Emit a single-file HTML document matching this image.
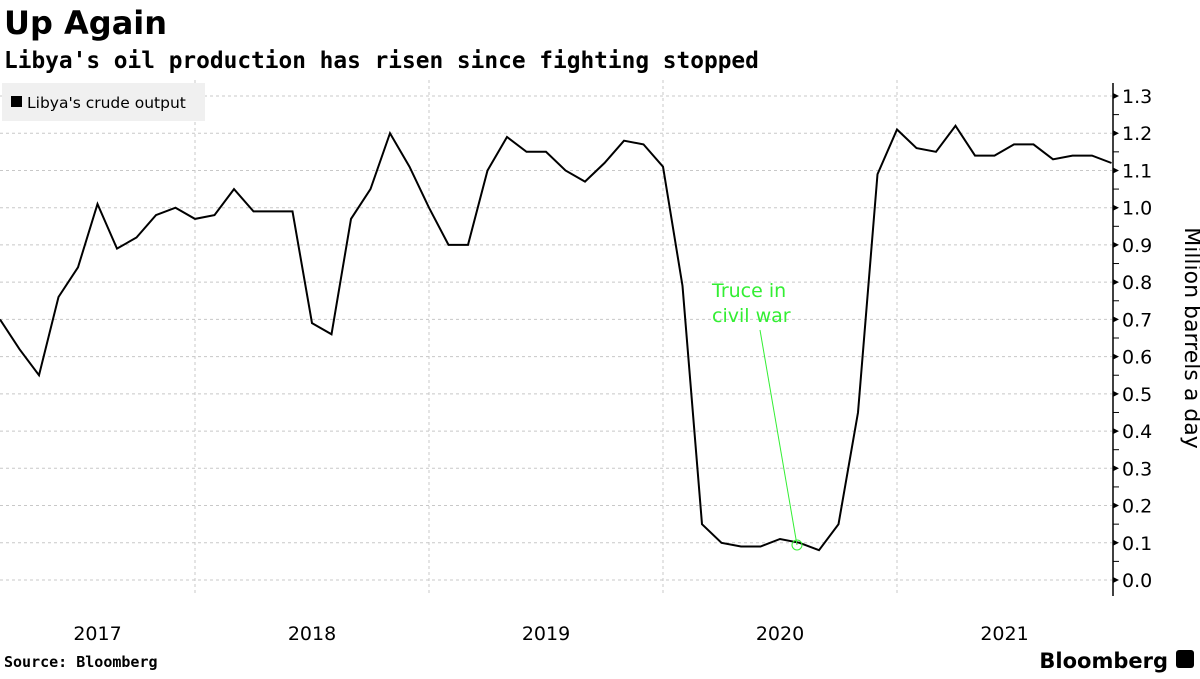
<!DOCTYPE html>
<html><head><meta charset="utf-8"><style>
body{margin:0;background:#fff;width:1200px;height:675px;overflow:hidden;font-family:"DejaVu Sans","Liberation Sans",sans-serif;}
</style></head><body>
<svg width="1200" height="675" xmlns="http://www.w3.org/2000/svg">
<text x="4" y="34" font-size="32" font-weight="bold" font-family="DejaVu Sans,sans-serif">Up Again</text>
<text x="4" y="68" font-size="22.8" font-weight="bold" font-family="DejaVu Sans Mono,monospace">Libya's oil production has risen since fighting stopped</text>
<g id="grid"></g>
<rect x="2" y="83" width="203" height="38" fill="#f0f0f0"/>
<rect x="11" y="96" width="11" height="11" fill="#000"/>
<text x="27" y="108" font-size="15.5">Libya's crude output</text>
<g id="axis"></g>
<path id="line" fill="none" stroke="#000" stroke-width="2"/>
<text x="712" y="297" font-size="19" fill="#33ee33">Truce in</text>
<text x="712" y="322" font-size="19" fill="#33ee33">civil war</text>
<line x1="760" y1="330" x2="797" y2="545" stroke="#33ee33" stroke-width="1"/>
<circle cx="797" cy="545" r="5" fill="none" stroke="#33ee33"/>
<text x="1185" y="338" font-size="22" text-anchor="middle" transform="rotate(90 1185 338)">Million barrels a day</text>
<text x="4" y="667" font-size="15" font-weight="bold" font-family="DejaVu Sans Mono,monospace">Source: Bloomberg</text>
<text x="1168" y="668" font-size="21" font-weight="bold" text-anchor="end">Bloomberg</text>
<rect x="1176" y="650" width="18" height="18" rx="3" fill="#000"/>
</svg>
<script>
const values=[0.70,0.62,0.55,0.76,0.84,1.01,0.89,0.92,0.98,1.00,0.97,0.98,1.05,0.99,0.99,0.99,0.69,0.66,0.97,1.05,1.20,1.11,1.00,0.90,0.90,1.10,1.19,1.15,1.15,1.10,1.07,1.12,1.18,1.17,1.11,0.79,0.15,0.10,0.09,0.09,0.11,0.10,0.08,0.15,0.45,1.09,1.21,1.16,1.15,1.22,1.14,1.14,1.17,1.17,1.13,1.14,1.14,1.12];
const yTicks=[0,0.1,0.2,0.3,0.4,0.5,0.6,0.7,0.8,0.9,1.0,1.1,1.2,1.3];
const years=["2017","2018","2019","2020","2021"];
const yearStartIdx=[-2,10,22,34,46];
const NS="http://www.w3.org/2000/svg";
const step=19.5;
const x=i=>i*step;
const y=v=>580-v*(484/1.3);
const grid=document.getElementById('grid'),axis=document.getElementById('axis');
function mk(tag,at,parent){const e=document.createElementNS(NS,tag);for(const k in at)e.setAttribute(k,at[k]);parent.appendChild(e);return e;}
yTicks.forEach(v=>{
 const l=mk('line',{x1:0,x2:1112,y1:y(v),y2:y(v),stroke:'#c8c8c8','stroke-dasharray':'3,3'},grid);
 
 
 const t=mk('text',{x:1122,y:y(v)+7,'font-size':19},axis);t.textContent=v.toFixed(1);
 
 
 const p=mk('path',{d:`M1113 ${y(v)-3}L1119 ${y(v)}L1113 ${y(v)+3}Z`,fill:'#000'},axis);
 
 
 if(v<1.3){const m=mk('line',{x1:1113,x2:1119,y1:y(v+0.05),y2:y(v+0.05),stroke:'#000'},axis);
 
 }
});
const ax=mk('line',{x1:1113,x2:1113,y1:83,y2:596,stroke:'#000','stroke-width':1.5},axis);


years.forEach((yr,k)=>{
 const s=Math.max(0,x(yearStartIdx[k])),e=Math.min(1112,x(yearStartIdx[k]+12));
 if(k>0){const g=mk('line',{x1:s,x2:s,y1:80,y2:596,stroke:'#c8c8c8','stroke-dasharray':'3,3'},grid);
 
 }
 const t=mk('text',{x:(s+e)/2,y:640,'font-size':19,'text-anchor':'middle'},axis);t.textContent=yr;
 
 
});
document.getElementById('line').setAttribute('d',values.map((v,i)=>(i?'L':'M')+x(i).toFixed(1)+' '+y(v).toFixed(1)).join(''));
</script>
</body></html>
